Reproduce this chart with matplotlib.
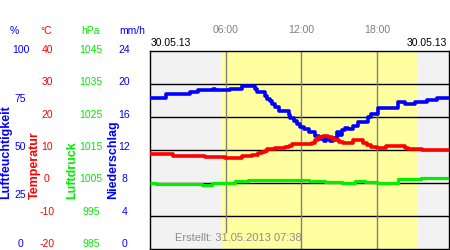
import matplotlib
matplotlib.use("Agg")
import matplotlib.pyplot as plt
from matplotlib.transforms import blended_transform_factory as btf

plt.rcParams['font.family'] = ['Liberation Sans', 'DejaVu Sans']

# ---------------- data ----------------
hum_t = [0.0, 1.25, 3.18, 3.84, 5.03, 5.16, 6.35, 7.28, 8.36, 8.5, 9.1, 9.3, 9.5, 9.7, 9.9,
         10.2, 11.0, 11.13, 11.4, 11.65, 11.86, 12.18, 12.58, 13.1, 13.37, 13.6, 13.8, 14.0,
         14.3, 14.55, 14.8, 15.0, 15.2, 15.5, 15.7, 16.1, 16.5, 17.3, 17.5, 18.1, 19.7, 20.2,
         21.0, 22.0, 22.8, 23.8]
hum_v = [75.8, 78.0, 78.8, 79.8, 80.8, 79.8, 80.8, 82.0, 80.5, 79.0, 76.8, 75.5, 74.3, 73.0, 71.3,
         69.5, 67.3, 65.7, 64.3, 62.7, 61.3, 60.2, 58.8, 57.0, 55.2, 56.3, 54.5, 55.5,
         54.3, 56.0, 59.0, 57.5, 60.0, 61.0, 60.5, 61.8, 64.0, 66.3, 68.0, 71.0, 73.8, 73.2,
         74.0, 74.8, 75.8, 75.8]

temp_t = [0.0, 1.85, 4.37, 5.95, 7.27, 7.8, 8.1, 8.6, 8.9, 9.1, 9.3, 9.9, 10.7, 11.0, 11.3,
          12.85, 13.1, 13.35, 13.7, 14.1, 14.4, 14.7, 15.0, 15.3, 15.8, 16.1, 16.4, 16.7, 16.9,
          17.2, 17.5, 18.0, 18.4, 18.7, 20.1, 20.2, 20.5, 21.6, 23.8]
temp_v = [8.5, 8.1, 7.8, 7.5, 7.9, 8.1, 8.4, 8.8, 9.1, 9.6, 10.3, 10.6, 10.9, 11.1, 11.8,
          12.0, 12.8, 13.8, 14.1, 13.8, 13.3, 12.8, 12.2, 11.9, 12.1, 12.8, 12.9, 12.8, 12.1,
          11.3, 10.8, 10.4, 10.6, 11.1, 11.0, 10.6, 10.3, 9.9, 9.9]

pres_t = [0.0, 0.5, 4.1, 4.9, 6.75, 7.8, 12.6, 13.9, 15.2, 16.3, 17.05, 18.0, 19.7, 21.5, 23.8]
pres_v = [1004.8, 1004.5, 1004.3, 1004.8, 1005.4, 1005.8, 1005.6, 1005.3, 1005.0, 1005.6,
          1005.2, 1005.0, 1006.0, 1006.3, 1006.3]

sunrise, sunset = 5.6, 21.17

hum_ticks = [100, 75, 50, 25, 0]
temp_ticks = [40, 30, 20, 10, 0, -10, -20]
pres_ticks = [1045, 1035, 1025, 1015, 1005, 995, 985]
prec_ticks = [24, 20, 16, 12, 8, 4, 0]
time_ticks = [6, 12, 18]
time_labels = ["06:00", "12:00", "18:00"]
date_label = "30.05.13"
created = "Erstellt: 31.05.2013 07:38"

BLUE, RED, GREEN = '#0000ff', '#ff0000', '#00ee00'

# ---------------- figure ----------------
fig = plt.figure(figsize=(4.5, 2.5), dpi=100)
W, H = 450.0, 250.0
ax = fig.add_axes([150 / W, 1.5 / H, 299 / W, 198 / H])
ax.set_xlim(0, 23.72)
ax.set_ylim(-20, 40)
ax.set_facecolor('#f2f2f2')
ax.axvspan(sunrise, sunset, color='#ffffa0', lw=0, zorder=0)
for yv in temp_ticks[1:-1]:
    ax.axhline(yv, color='black', lw=1, zorder=1)
for i, tv in enumerate(time_ticks):
    ax.axvline(tv, ymin=0.083 if i == 0 else 0, color='#808080', lw=1, zorder=1)
ax.set_xticks([])
ax.set_yticks([])
for s in ax.spines.values():
    s.set_color('black')
    s.set_linewidth(1)

def twin(lims):
    a = ax.twinx()
    a.set_ylim(*lims)
    a.set_xlim(ax.get_xlim())
    a.patch.set_visible(False)
    a.set_yticks([])
    a.set_xticks([])
    for s in a.spines.values():
        s.set_visible(False)
    return a

ax_p = twin((985, 1045))
ax_h = twin((0, 100))
ax_t = twin((-20, 40))

ax_p.plot(pres_t, pres_v, drawstyle='steps-post', color=GREEN, lw=2.3, solid_capstyle='butt')
ax_h.plot(hum_t, hum_v, drawstyle='steps-post', color=BLUE, lw=2.6, solid_capstyle='butt')
ax_t.plot(temp_t, temp_v, drawstyle='steps-post', color=RED, lw=2.6, solid_capstyle='butt')

# ---------------- left scales (label column spans y = 50..244 px) ----------------
fs = 7.5
TOP, BOT = 50.0, 244.0
def scale(ticks, xpx, color):
    lo, hi = min(ticks), max(ticks)
    for v in ticks:
        frac = (v - lo) / (hi - lo)
        ypx = BOT - frac * (BOT - TOP)
        fig.text(xpx / W, 1 - ypx / H, str(v), ha='center', va='center',
                 color=color, fontsize=fs)

scale(hum_ticks, 20.5, BLUE)
scale(temp_ticks, 47, RED)
scale(pres_ticks, 91, GREEN)
scale(prec_ticks, 124.5, BLUE)

uy = 1 - 30.7 / H
for txt, xpx, c in [('%', 14, BLUE), ('°C', 46.5, RED), ('hPa', 90, GREEN), ('mm/h', 132.5, BLUE)]:
    fig.text(xpx / W, uy, txt, ha='center', va='center', color=c, fontsize=fs)

ly = 1 - 199 / H
for txt, xpx, c in [('Luftfeuchtigkeit', 6.5, BLUE), ('Temperatur', 34.5, RED),
                    ('Luftdruck', 72, GREEN), ('Niederschlag', 113, BLUE)]:
    fig.text(xpx / W, ly, txt, rotation=90, ha='center', va='bottom', color=c,
             fontsize=9, fontweight='bold')

# ---------------- top labels ----------------
trx = btf(ax.transData, fig.transFigure)
for tv, tl in zip(time_ticks, time_labels):
    ax.text(tv, 1 - 30 / H, tl, transform=trx, ha='center', va='center',
            color='#808080', fontsize=fs)
fig.text(151 / W, 1 - 43.3 / H, date_label, ha='left', va='center', color='black', fontsize=fs)
fig.text(447 / W, 1 - 43.3 / H, date_label, ha='right', va='center', color='black', fontsize=fs)

fig.text(175 / W, 1 - 238.3 / H, created, ha='left', va='center', color='#8c8c8c', fontsize=8)

fig.savefig('out.png', dpi=100)
